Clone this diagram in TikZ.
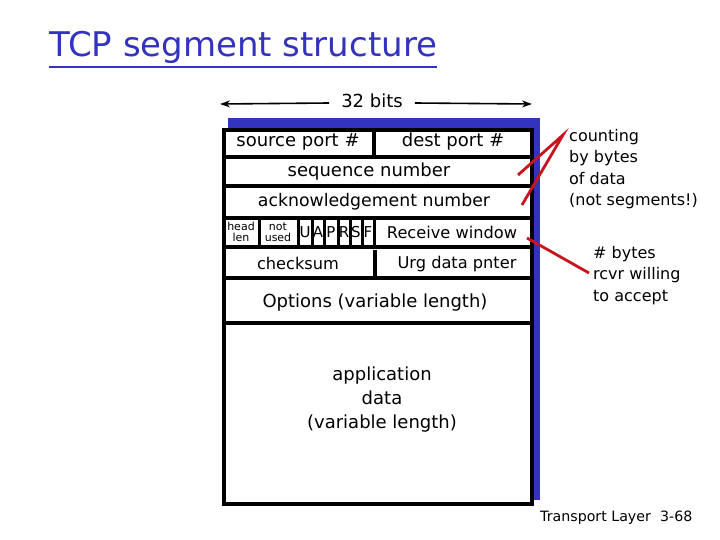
\documentclass[tikz,border=0pt]{standalone}
\usepackage{fontspec}
\setmainfont{DejaVu Sans}
\usetikzlibrary{arrows.meta}
\definecolor{slideblue}{RGB}{51,51,190}
\definecolor{notered}{RGB}{200,20,30}
\tikzset{
  field/.style={font=\fontsize{18}{24}\selectfont, inner sep=0pt},
  smallfield/.style={font=\fontsize{16.2}{20}\selectfont, inner sep=0pt},
  flag/.style={font=\fontsize{15}{15}\selectfont, inner sep=0pt},
  tiny/.style={font=\fontsize{11}{11.5}\selectfont, align=center, inner sep=0pt},
  note/.style={font=\fontsize{16}{21.5}\selectfont, align=left, anchor=north west, inner sep=0pt},
  footer/.style={font=\fontsize{14.2}{15}\selectfont, anchor=base west, inner sep=0pt},
  rule/.style={line width=3.6pt},
  pointer/.style={notered, line width=2.8pt},
}

\begin{document}
\begin{tikzpicture}[x=1pt, y=-1pt]
\useasboundingbox (0,0) rectangle (720,540);
% title
\node[font=\fontsize{34}{34}\selectfont, text=slideblue, anchor=base west, inner sep=0pt] (title) at (49,57) {TCP segment structure};
\draw[slideblue, line width=2.6pt] ([yshift=-10pt]title.base west) -- ([yshift=-10pt]title.base east);
% width marker
\node[field] (bits) at (372,101) {32 bits};
\coordinate (bitsL) at (220,104);
\coordinate (bitsR) at (532,104);
\draw[line width=1.6pt, -{Stealth[length=10pt,width=7pt]}] ([xshift=-12pt,yshift=-2pt]bits.west) -- (bitsL);
\draw[line width=1.6pt, -{Stealth[length=10pt,width=7pt]}] ([xshift=12pt,yshift=-2pt]bits.east) -- (bitsR);
% header box with shadow
\fill[slideblue] (228,118) rectangle (540,500);
\draw[rule, fill=white] (224,130) rectangle (532,504);
\foreach \y in {157,186,218,247,278,323}
  \draw[rule] (224,\y) -- (532,\y);
\foreach \x in {259,298,312,324,338,350,362,374}
  \draw[line width=3pt] (\x,218) -- (\x,247);
\draw[rule] (374,130) -- (374,157);
\draw[rule] (375,250) -- (375,278);
% fields
\node[field] (src) at (298,142) {source port \#};
\node[field] (dst) at (453,142) {dest port \#};
\node[field] (seq) at (369,172) {sequence number};
\node[field, font=\fontsize{17.3}{20}\selectfont] (ack) at (374,202) {acknowledgement number};
\node[tiny] (hlen) at (241,232) {head\\len};
\node[tiny] (unused) at (278,232) {not\\used};
\foreach \f/\x in {U/305,A/318,P/331,R/344,S/356,F/368}
  \node[flag] (flag\f) at (\x,232) {\f};
\node[smallfield] (rwnd) at (452,232) {Receive window};
\node[smallfield] (csum) at (298,263) {checksum};
\node[smallfield] (urg) at (457,264) {Urg data pnter};
\node[field] (opts) at (375,303) {Options (variable length)};
\node[field, align=center] (data) at (382,400) {application\\data\\(variable length)};
% notes
\node[note] (count) at (569,129) {counting\\by bytes\\of data\\(not segments!)};
\node[note] (rcvr) at (593,246) {\# bytes\\rcvr willing\\to accept};
\coordinate (seqEnd) at (518,175);
\coordinate (ackEnd) at (522,205);
\coordinate (apex) at ([xshift=-6pt,yshift=-6pt]count.north west);
\draw[pointer] (seqEnd) -- (apex) -- (ackEnd);
\coordinate (rwndEnd) at (527,238);
\coordinate (rcvrTip) at (589,273);
\draw[pointer] (rwndEnd) -- (rcvrTip);
% footer
\node[footer] (layer) at (540,521) {Transport Layer};
\node[footer] (page) at (660,521) {3-68};
\end{tikzpicture}
\end{document}
